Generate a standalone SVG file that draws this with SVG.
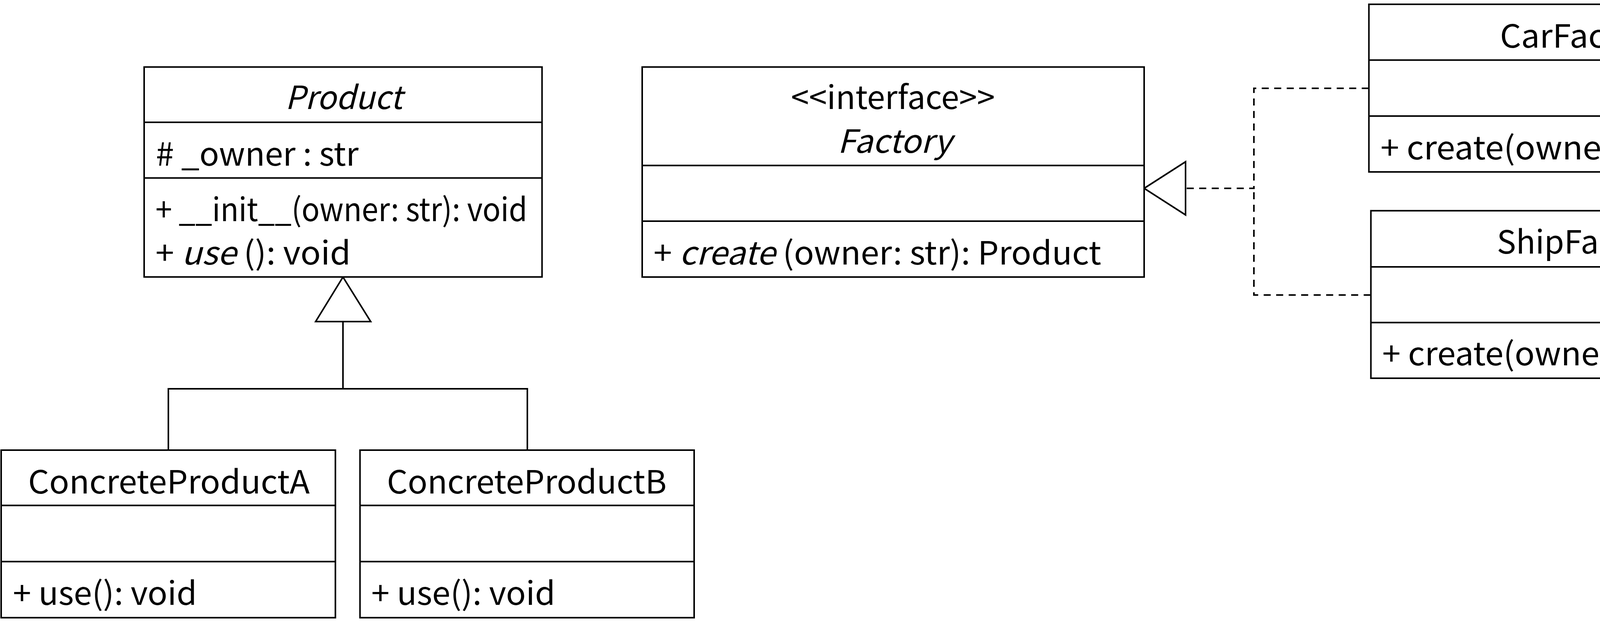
<svg xmlns="http://www.w3.org/2000/svg" width="4615" height="1620" viewBox="0 0 4615 1620">
<style>
.box{fill:#ffffff;stroke:#000000;stroke-width:4}
.div{stroke:#000000;stroke-width:4;fill:none}
.t{font-family:"Noto Sans CJK JP","Noto Sans",sans-serif;font-size:82px;fill:#000000}
.c{text-anchor:middle}
.i{font-style:italic}
.line{stroke:#000000;stroke-width:4;fill:none}
.dash{stroke:#000000;stroke-width:4;fill:none;stroke-dasharray:18 14}
.head{fill:#ffffff;stroke:#000000;stroke-width:4;stroke-linejoin:miter}
</style>
<rect width="4615" height="1620" fill="#ffffff"/>
<g id="connectors">
  <path class="line" d="M878,823 V995 M431,1152 V995 H1350 V1152"/>
  <polygon class="head" points="878,709 808,823 949,823"/>
  <path class="dash" d="M3504,226 H3210 V482 H3036"/>
  <path class="dash" d="M3509,755 H3210 V482"/>
  <polygon class="head" points="2929,482 3035,414 3035,550"/>
</g>
<g id="Product">
  <rect class="box" x="369" y="171.5" width="1018.6" height="537.3"/>
  <path class="div" d="M369,313 H1387.6 M369,455.6 H1387.6"/>
  <text class="t c i" x="880" y="279" textLength="300" lengthAdjust="spacingAndGlyphs">Product</text>
  <text class="t" x="399" y="423.6" textLength="519" lengthAdjust="spacingAndGlyphs"># _owner : str</text>
  <text class="t" x="398" y="566" textLength="952" lengthAdjust="spacingAndGlyphs">+ __init__(owner: str): void</text>
  <text class="t" x="398" y="677" textLength="500" lengthAdjust="spacingAndGlyphs">+ <tspan class="i">use</tspan> (): void</text>
</g>
<g id="Factory">
  <rect class="box" x="1644" y="171.5" width="1285" height="537.5"/>
  <path class="div" d="M1644,423.5 H2929 M1644,566 H2929"/>
  <text class="t c" x="2286" y="279" textLength="522" lengthAdjust="spacingAndGlyphs">&lt;&lt;interface&gt;&gt;</text>
  <text class="t c i" x="2290" y="390.6" textLength="292" lengthAdjust="spacingAndGlyphs">Factory</text>
  <text class="t" x="1673" y="677" textLength="1146" lengthAdjust="spacingAndGlyphs">+ <tspan class="i">create</tspan> (owner: str): Product</text>
</g>
<g id="CarFactory">
  <rect class="box" x="3504.4" y="11" width="1099.3" height="429"/>
  <path class="div" d="M3504.4,153.7 H4603.7 M3504.4,297 H4603.7"/>
  <text class="t c" x="4055" y="121.7" textLength="430" lengthAdjust="spacingAndGlyphs">CarFactory</text>
  <text class="t" x="3534" y="408" textLength="977" lengthAdjust="spacingAndGlyphs">+ create(owner: str) : Car</text>
</g>
<g id="ShipFactory">
  <rect class="box" x="3509.5" y="539.3" width="1100.5" height="428.7"/>
  <path class="div" d="M3509.5,683 H4610 M3509.5,825.5 H4610"/>
  <text class="t c" x="4061" y="649" textLength="458" lengthAdjust="spacingAndGlyphs">ShipFactory</text>
  <text class="t" x="3538.5" y="935" textLength="1004" lengthAdjust="spacingAndGlyphs">+ create(owner: str) : Ship</text>
</g>
<g id="ConcreteProductA">
  <rect class="box" x="3" y="1152" width="855.6" height="428.8"/>
  <path class="div" d="M3,1293.6 H858.6 M3,1437.2 H858.6"/>
  <text class="t c" x="432.5" y="1262.6" textLength="721" lengthAdjust="spacingAndGlyphs">ConcreteProductA</text>
  <text class="t" x="33" y="1547.7" textLength="471" lengthAdjust="spacingAndGlyphs">+ use(): void</text>
</g>
<g id="ConcreteProductB">
  <rect class="box" x="921.6" y="1152" width="855.4" height="428.8"/>
  <path class="div" d="M921.6,1293.6 H1777 M921.6,1437.2 H1777"/>
  <text class="t c" x="1348.5" y="1262.6" textLength="716" lengthAdjust="spacingAndGlyphs">ConcreteProductB</text>
  <text class="t" x="950.5" y="1547.7" textLength="471" lengthAdjust="spacingAndGlyphs">+ use(): void</text>
</g>
</svg>
